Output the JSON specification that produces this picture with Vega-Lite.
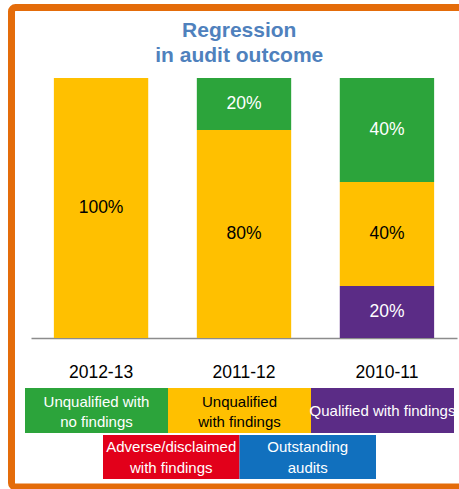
{
  "$schema": "https://vega.github.io/schema/vega-lite/v6.json",
  "width": 455.5,
  "height": 479.5,
  "autosize": {"type": "none"},
  "padding": {"left": 11.5, "top": 7.5, "right": 0, "bottom": 2},
  "background": "white",
  "title": {
    "text": ["Regression", "in audit outcome"],
    "anchor": "middle",
    "frame": "group",
    "offset": -75,
    "baseline": "alphabetic",
    "font": "Liberation Sans",
    "fontSize": 21,
    "fontWeight": "bold",
    "color": "#4F81BD",
    "lineHeight": 25
  },
  "config": {
    "view": {"stroke": "#E46C0A", "strokeWidth": 7, "cornerRadius": 4, "fill": "white"}
  },
  "datasets": {
    "audit": [
      {"year": "2012-13", "outcome": "Unqualified with findings", "pct": 1.0},
      {"year": "2011-12", "outcome": "Unqualified with findings", "pct": 0.8},
      {"year": "2011-12", "outcome": "Unqualified with no findings", "pct": 0.2},
      {"year": "2010-11", "outcome": "Qualified with findings", "pct": 0.2},
      {"year": "2010-11", "outcome": "Unqualified with findings", "pct": 0.4},
      {"year": "2010-11", "outcome": "Unqualified with no findings", "pct": 0.4}
    ],
    "legend": [
      {"outcome": "Unqualified with no findings", "label": "Unqualified with\nno findings"},
      {"outcome": "Unqualified with findings", "label": "Unqualified\nwith findings"},
      {"outcome": "Qualified with findings", "label": "Qualified with findings"},
      {"outcome": "Adverse/disclaimed with findings", "label": "Adverse/disclaimed\nwith findings"},
      {"outcome": "Outstanding audits", "label": "Outstanding\naudits"}
    ]
  },
  "layer": [
    {
      "data": {"name": "audit"},
      "encoding": {
        "x": {
          "field": "year",
          "type": "nominal",
          "sort": ["2012-13", "2011-12", "2010-11"],
          "scale": {"range": [19.5, 445.5], "paddingInner": 0.34, "paddingOuter": 0.16},
          "axis": {
            "title": null,
            "orient": "bottom",
            "offset": -149,
            "ticks": false,
            "tickSize": 0,
            "domainColor": "#8C8C8C",
            "domainWidth": 1.5,
            "labelFont": "Liberation Sans",
            "labelFontSize": 17.5,
            "labelColor": "#000000",
            "labelPadding": 25,
            "labelAngle": 0
          }
        }
      },
      "layer": [
        {
          "mark": {"type": "bar"},
          "encoding": {
            "y": {
              "field": "pct",
              "type": "quantitative",
              "stack": "zero",
              "scale": {"domain": [0, 1], "range": [330.5, 70.5]},
              "axis": null
            },
            "color": {
              "field": "outcome",
              "type": "nominal",
              "scale": {
                "domain": ["Unqualified with no findings", "Unqualified with findings", "Qualified with findings", "Adverse/disclaimed with findings", "Outstanding audits"],
                "range": ["#2CA43B", "#FFC000", "#5B2C86", "#E2001A", "#1170BE"]
              },
              "legend": null
            },
            "order": {"field": "outcome", "sort": "ascending"}
          }
        },
        {
          "mark": {"type": "text", "font": "Liberation Sans", "fontSize": 17.5, "align": "center", "baseline": "middle"},
          "encoding": {
            "y": {"field": "pct", "type": "quantitative", "stack": "zero", "bandPosition": 0.5},
            "detail": {"field": "outcome"},
            "order": {"field": "outcome", "sort": "ascending"},
            "text": {"field": "pct", "type": "quantitative", "format": ".0%"},
            "color": {
              "condition": {"test": "datum.outcome === 'Unqualified with findings'", "value": "#000000"},
              "value": "#FFFFFF"
            }
          }
        }
      ]
    },
    {
      "data": {"name": "legend"},
      "transform": [
        {"filter": {"field": "outcome", "oneOf": ["Unqualified with no findings", "Unqualified with findings", "Qualified with findings"]}}
      ],
      "encoding": {
        "x": {
          "field": "outcome",
          "type": "nominal",
          "sort": ["Unqualified with no findings", "Unqualified with findings", "Qualified with findings"],
          "scale": {"range": [13.5, 442.5], "paddingInner": 0, "paddingOuter": 0},
          "axis": null
        },
        "y": {
          "datum": "top row",
          "type": "nominal",
          "scale": {"range": [380.5, 425.5], "paddingInner": 0, "paddingOuter": 0},
          "axis": null
        }
      },
      "layer": [
        {
          "mark": {"type": "rect"},
          "encoding": {
            "color": {"field": "outcome", "type": "nominal", "legend": null}
          }
        },
        {
          "transform": [{"filter": {"field": "outcome", "equal": "Qualified with findings"}}],
          "mark": {"type": "text", "font": "Liberation Sans", "fontSize": 15, "align": "center", "baseline": "middle"},
          "encoding": {
            "text": {"field": "label"},
            "color": {"value": "#FFFFFF"}
          }
        },
        {
          "transform": [{"filter": {"not": {"field": "outcome", "equal": "Qualified with findings"}}}],
          "mark": {"type": "text", "font": "Liberation Sans", "fontSize": 15, "lineBreak": "\n", "lineHeight": 20, "dy": -9, "align": "center", "baseline": "middle"},
          "encoding": {
            "text": {"field": "label"},
            "color": {
              "condition": {"test": "datum.outcome === 'Unqualified with findings'", "value": "#000000"},
              "value": "#FFFFFF"
            }
          }
        }
      ]
    },
    {
      "data": {"name": "legend"},
      "transform": [
        {"filter": {"field": "outcome", "oneOf": ["Adverse/disclaimed with findings", "Outstanding audits"]}}
      ],
      "encoding": {
        "x": {
          "field": "outcome",
          "type": "nominal",
          "sort": ["Adverse/disclaimed with findings", "Outstanding audits"],
          "scale": {"range": [91.5, 364.5], "paddingInner": 0, "paddingOuter": 0},
          "axis": null
        },
        "y": {
          "datum": "bottom row",
          "type": "nominal",
          "scale": {"range": [427.5, 471.5], "paddingInner": 0, "paddingOuter": 0},
          "axis": null
        }
      },
      "layer": [
        {
          "mark": {"type": "rect"},
          "encoding": {
            "color": {"field": "outcome", "type": "nominal", "legend": null}
          }
        },
        {
          "mark": {"type": "text", "font": "Liberation Sans", "fontSize": 15, "lineBreak": "\n", "lineHeight": 21, "dy": -10, "align": "center", "baseline": "middle"},
          "encoding": {
            "text": {"field": "label"},
            "color": {"value": "#FFFFFF"}
          }
        }
      ]
    }
  ],
  "resolve": {
    "scale": {"x": "independent", "y": "independent"},
    "axis": {"x": "independent", "y": "independent"}
  }
}
